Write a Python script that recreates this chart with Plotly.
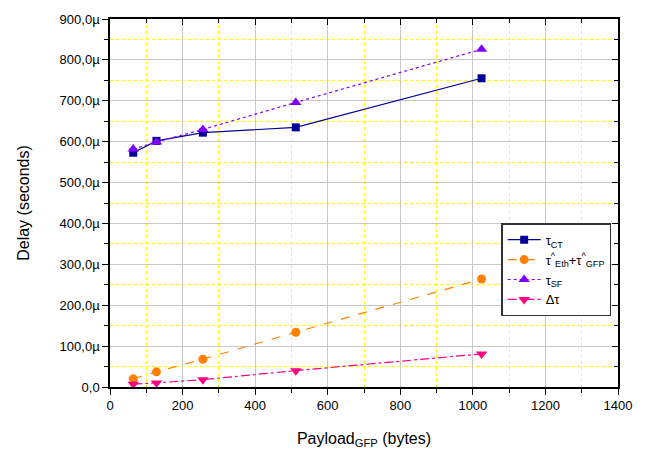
import plotly.graph_objects as go

payload = [64, 128, 256, 512, 1024]
tau_ct = [573, 602, 622, 635, 755]
tau_eth_gfp = [20, 37, 68, 134, 264]
tau_sf = [582, 599, 630, 696, 826]
delta_tau = [7, 10, 18, 40, 81]

y_tickvals = [0, 100, 200, 300, 400, 500, 600, 700, 800, 900]
y_ticktext = ["0,0", "100,0µ", "200,0µ", "300,0µ", "400,0µ", "500,0µ",
              "600,0µ", "700,0µ", "800,0µ", "900,0µ"]
x_tickvals = [0, 200, 400, 600, 800, 1000, 1200, 1400]

FONT = "Arial, Liberation Sans, sans-serif"
MINOR_GRID = "#FFFF00"

fig = go.Figure()
fig.add_trace(go.Scatter(x=payload, y=tau_ct, mode="lines+markers", name="τ<sub>CT</sub>",
                         line=dict(color="#000099", width=1.2, dash="solid"),
                         marker=dict(symbol="square", size=8, color="#000099")))
fig.add_trace(go.Scatter(x=payload, y=tau_eth_gfp, mode="lines+markers",
                         name="τ<sup>^</sup><sub>Eth</sub>+τ<sup>^</sup><sub>GFP</sub>",
                         line=dict(color="#FF8000", width=1.2, dash="dash"),
                         marker=dict(symbol="circle", size=9, color="#FF8000")))
fig.add_trace(go.Scatter(x=payload, y=tau_sf, mode="lines+markers", name="τ<sub>SF</sub>",
                         line=dict(color="#8000FF", width=1.2, dash="dot"),
                         marker=dict(symbol="triangle-up", size=10, color="#8000FF")))
fig.add_trace(go.Scatter(x=payload, y=delta_tau, mode="lines+markers", name="Δτ",
                         line=dict(color="#FF0080", width=1.2, dash="dashdot"),
                         marker=dict(symbol="triangle-down", size=10, color="#FF0080")))
# invisible trace to carry the mirrored (inside-tick) axes
fig.add_trace(go.Scatter(x=[0], y=[0], xaxis="x2", yaxis="y2", mode="markers",
                         marker=dict(opacity=0), showlegend=False, hoverinfo="skip"))

common = dict(showline=True, linecolor="black", linewidth=1.5, zeroline=False,
              gridcolor="#C8C8C8", gridwidth=1, ticks="outside", ticklen=6,
              tickcolor="black", tickfont=dict(family=FONT, size=13, color="black"))

fig.update_layout(
    width=652, height=459,
    margin=dict(l=110, r=34, t=12, b=72),
    paper_bgcolor="white", plot_bgcolor="white",
    font=dict(family=FONT, color="black"),
    xaxis=dict(range=[0, 1400], tickvals=x_tickvals,
               title=dict(text="Payload<sub>GFP</sub> (bytes)", font=dict(family=FONT, size=16), standoff=20),
               minor=dict(dtick=100, tick0=0, showgrid=True, gridcolor=MINOR_GRID, griddash="dot",
                          gridwidth=1, ticks="outside", ticklen=4, tickcolor="black"),
               **common),
    yaxis=dict(range=[0, 900], tickvals=y_tickvals, ticktext=y_ticktext,
               title=dict(text="Delay (seconds)", font=dict(family=FONT, size=16), standoff=26),
               minor=dict(dtick=50, tick0=0, showgrid=True, gridcolor=MINOR_GRID, griddash="dot",
                          gridwidth=1, ticks="outside", ticklen=4, tickcolor="black"),
               **common),
    xaxis2=dict(range=[0, 1400], overlaying="x", side="top", showticklabels=False,
                showgrid=False, zeroline=False, showline=True, linecolor="black", linewidth=1.5,
                ticks="inside", ticklen=6, tickcolor="black", tickvals=x_tickvals,
                minor=dict(dtick=100, ticks="inside", ticklen=4, tickcolor="black")),
    yaxis2=dict(range=[0, 900], overlaying="y", side="right", showticklabels=False,
                showgrid=False, zeroline=False, showline=True, linecolor="black", linewidth=1.5,
                ticks="inside", ticklen=6, tickcolor="black", tickvals=y_tickvals,
                minor=dict(dtick=50, ticks="inside", ticklen=4, tickcolor="black")),
    legend=dict(x=0.77, y=0.445, xanchor="left", yanchor="top",
                bgcolor="white", bordercolor="#333333", borderwidth=1.5,
                font=dict(family=FONT, size=13, color="black"),
                itemwidth=33, tracegroupgap=0),
    showlegend=True,
)

fig.write_html("out.html")
